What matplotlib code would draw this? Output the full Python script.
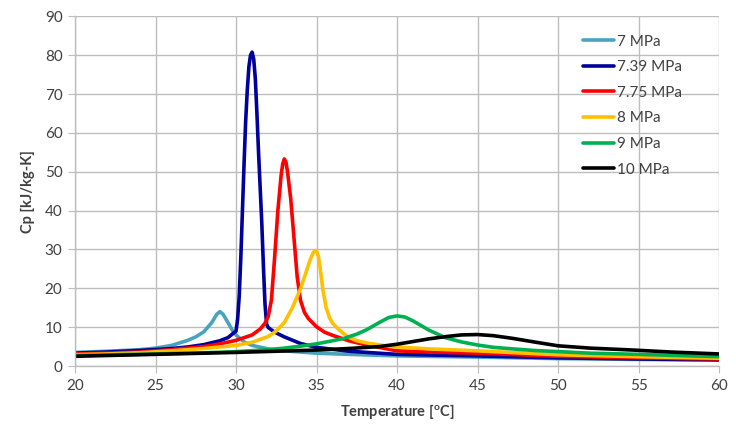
import matplotlib
matplotlib.use("Agg")
import matplotlib.pyplot as plt

# Cp of CO2 near the critical point
T_7 = [20, 22, 24, 25, 26, 27, 27.5, 28, 28.5, 28.8, 29, 29.2, 29.5, 29.8, 30, 30.5, 31, 32, 33, 35,
       37, 40, 45, 50, 55, 60]
cp_7 = [3.5, 3.8, 4.2, 4.6, 5.3, 6.6, 7.5, 8.8, 11.2, 13.3, 14.0, 13.3, 11.2, 9.0, 8.0, 6.2, 5.3,
        4.4, 3.9, 3.3, 3.0, 2.6, 2.3, 1.9, 1.7, 1.5]

T_739 = [20, 22, 24, 26, 27, 28, 29, 29.5, 30, 30.1, 30.2, 30.3, 30.4, 30.5, 30.6, 30.7, 30.8, 30.9,
         31, 31.1, 31.2, 31.3, 31.4, 31.5, 31.6, 31.7, 31.8, 31.9, 32, 32.3, 32.6, 33, 34, 35, 37,
         40, 45, 50, 55, 60]
cp_739 = [3.3, 3.6, 4.0, 4.5, 4.9, 5.5, 6.5, 7.3, 9.0, 12, 18, 28, 40, 52, 63, 71, 77, 80, 80.8,
          79, 74, 65, 55, 46, 37, 26, 16, 10.8, 9.9, 9.0, 8.3, 7.5, 5.8, 4.8, 3.8, 3.0, 2.6, 2.1,
          1.8, 1.6]

T_775 = [20, 22, 24, 26, 28, 29, 30, 31, 31.5, 31.8, 32, 32.2, 32.4, 32.6, 32.8, 32.9, 33, 33.1,
         33.2, 33.4, 33.6, 33.8, 34, 34.25, 34.5, 35, 35.5, 36, 37, 38, 40, 42, 45, 50, 55, 60]
cp_775 = [3.1, 3.3, 3.6, 4.2, 5.0, 5.7, 6.6, 8.0, 9.5, 11.0, 12.7, 17, 28, 40, 49, 52, 53.3, 52.5,
          50, 43, 33, 23, 17, 13.8, 12.2, 10.1, 8.7, 7.9, 6.5, 5.5, 3.9, 3.6, 3.3, 2.5, 2.1, 1.8]

T_8 = [20, 22, 24, 26, 28, 30, 31, 32, 32.5, 33, 33.5, 34, 34.3, 34.6, 34.8, 34.9, 35, 35.1, 35.2,
       35.4, 35.6, 35.8, 36, 36.3, 36.6, 37, 37.5, 38.3, 39.6, 42, 45, 50, 55, 60]
cp_8 = [2.9, 3.1, 3.4, 3.9, 4.5, 5.3, 6.1, 7.6, 9.0, 11.2, 15.0, 19.8, 23.5, 27.3, 29.2, 29.7,
        29.6, 28.5, 26, 19.5, 15, 12.5, 11, 9.7, 8.6, 7.4, 6.5, 5.8, 5.0, 4.4, 3.9, 2.9, 2.4, 2.0]

T_9 = [20, 25, 28, 30, 32, 33, 34, 35, 36, 36.7, 37.5, 38.1, 38.9, 39.5, 40, 40.5, 41, 41.5, 42,
       43, 44, 45, 46, 47.2, 48.5, 50, 52, 55, 60]
cp_9 = [2.7, 3.1, 3.4, 3.7, 4.2, 4.6, 5.1, 5.7, 6.5, 7.1, 8.2, 9.3, 11.2, 12.5, 12.9, 12.6, 11.6,
        10.4, 9.2, 7.3, 6.2, 5.4, 4.8, 4.4, 4.0, 3.7, 3.3, 3.0, 2.4]

T_10 = [20, 25, 30, 35, 37, 38.9, 40, 41, 42, 43.1, 44, 45, 46, 47.2, 48.5, 50, 52, 54.7, 57, 60]
cp_10 = [2.5, 3.0, 3.5, 4.1, 4.5, 5.0, 5.6, 6.3, 7.0, 7.6, 8.0, 8.1, 7.8, 7.1, 6.2, 5.2, 4.6, 4.1,
         3.6, 3.1]

series = [(T_7, cp_7, "7 MPa", "#4AA3BE"),
          (T_739, cp_739, "7.39 MPa", "#00009C"),
          (T_775, cp_775, "7.75 MPa", "#FF0000"),
          (T_8, cp_8, "8 MPa", "#FFC000"),
          (T_9, cp_9, "9 MPa", "#00B050"),
          (T_10, cp_10, "10 MPa", "#000000")]

plt.rcParams["font.family"] = ["Lato", "DejaVu Sans"]
plt.rcParams["mathtext.default"] = "regular"

fig = plt.figure(figsize=(7.36, 4.24), dpi=100)
ax = fig.add_axes([75 / 736, 1 - 366 / 424, 644 / 736, 349.6 / 424])

for T, cp, lab, col in series:
    ax.plot(T, cp, color=col, lw=2.6, label=lab, solid_capstyle="round",
            solid_joinstyle="round")

ax.set_xlim(20, 60)
ax.set_ylim(0, 90)
ax.set_xticks(range(20, 61, 5))
ax.set_yticks(range(0, 91, 10))
ax.grid(color="#BDBDBD", lw=1)
ax.set_axisbelow(True)
for s in ["top", "right"]:
    ax.spines[s].set_visible(False)
for s in ["left", "bottom"]:
    ax.spines[s].set_color("#BDBDBD")
    ax.spines[s].set_linewidth(1)
ax.tick_params(direction="out", length=5, color="#BDBDBD", labelsize=11,
               labelcolor="#404040", pad=4)

ax.set_xlabel("Temperature [$^{o}$C]", fontsize=10.5, fontweight="bold", labelpad=7,
              color="#404040")
ax.set_ylabel("Cp [kJ/kg-K]", fontsize=10.5, fontweight="bold", labelpad=7, color="#404040")

leg = ax.legend(loc="upper left", bbox_to_anchor=(0.789, 0.948), frameon=False, fontsize=11,
                handlelength=2.0, handletextpad=0.25, labelspacing=0.76, borderpad=0,
                borderaxespad=0)
for t in leg.get_texts():
    t.set_color("#404040")

fig.savefig("out.png", dpi=100)
